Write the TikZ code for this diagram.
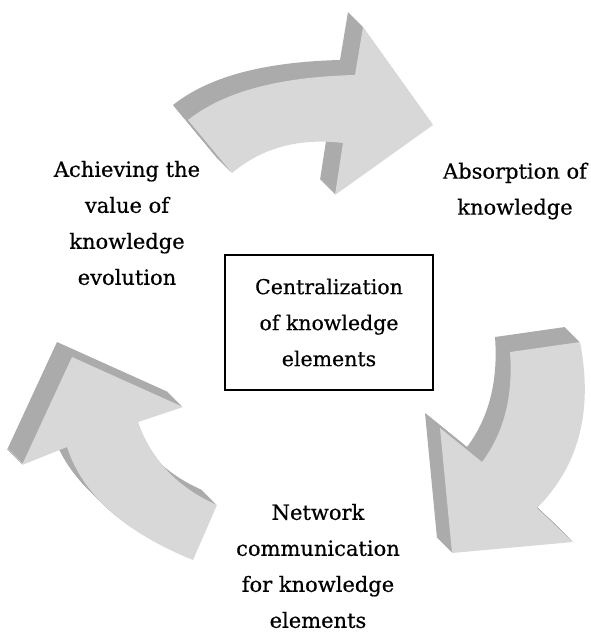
\documentclass[tikz,border=0pt]{standalone}
\usepackage{fontspec}
\setmainfont{DejaVu Serif}
\newfontfamily\labelfont{DejaVu Serif}[FakeBold=0.5]
\usepackage{xcolor}
\definecolor{arrowface}{HTML}{D8D8D8}
\definecolor{arrowside}{HTML}{ABABAB}

% outlines of the three cycle arrows (units are points, y grows downwards)
\newcommand{\cycletop}{(188,120) .. controls (223.7,91.7) and (278.3,77) .. (355,75)
  -- (363,27) -- (433,125) -- (335,195) -- (343,143)
  .. controls (299,137.7) and (262.3,147.7) .. (232,173) -- cycle}
\newcommand{\cycleright}{(580,342) .. controls (593.3,410.7) and (579,466) .. (537,508)
  -- (573,542) -- (452,553) -- (440,428) -- (482,462)
  .. controls (504,432.7) and (513.3,396) .. (510,352) -- cycle}
\newcommand{\cycleleft}{(193,560) .. controls (124.3,532) and (82.3,494.3) .. (67,447)
  -- (22,465) -- (72,357) -- (183,407) -- (138,422)
  .. controls (151.3,460) and (177.7,487.7) .. (217,505) -- cycle}

\begin{document}
\begin{tikzpicture}[x=1pt, y=-1pt,
  face/.style={fill=arrowface},
  side/.style={fill=arrowside},
  label/.style={align=center, font=\labelfont\fontsize{21}{36}\selectfont},
  centerbox/.style={draw, line width=1.2pt, minimum width=208pt, minimum height=135pt,
                    align=center, font=\labelfont\fontsize{20.5}{36}\selectfont}
]
  \useasboundingbox (0,0) rectangle (591,642);

  % extruded sides first, then the front faces
  \foreach \k in {1,...,15} {
    \fill[side, shift={(-\k,-\k)}] \cycletop;
    \fill[side, shift={(-\k,-\k)}] \cycleright;
    \fill[side, shift={(-\k,-\k)}] \cycleleft;
  }
  \fill[face] \cycletop;
  \fill[face] \cycleright;
  \fill[face] \cycleleft;

  \node[centerbox] (central) at (329,322.5) {Centralization\\of knowledge\\elements};
  \node[label] (achieve) at (127,223) {Achieving the\\value of\\knowledge\\evolution};
  \node[label] (absorb) at (515,191) {Absorption of\\knowledge};
  \node[label] (network) at (318,566) {Network\\communication\\for knowledge\\elements};
\end{tikzpicture}
\end{document}
